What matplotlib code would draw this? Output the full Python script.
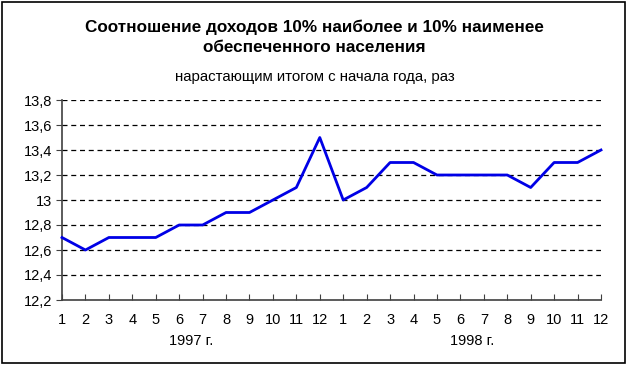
import matplotlib.pyplot as plt
from matplotlib.patches import Rectangle

plt.rcParams['font.family'] = ['Liberation Sans', 'DejaVu Sans']

# Months, two years in a row
months = [str(m) for m in range(1, 13)] * 2
years = ["1997 г.", "1998 г."]

# Ratio of incomes of top 10% to bottom 10%
values = [12.7, 12.6, 12.7, 12.7, 12.7, 12.8, 12.8, 12.9, 12.9, 13.0, 13.1, 13.5,
          13.0, 13.1, 13.3, 13.3, 13.2, 13.2, 13.2, 13.2, 13.1, 13.3, 13.3, 13.4]

y_ticks = [12.2, 12.4, 12.6, 12.8, 13.0, 13.2, 13.4, 13.6, 13.8]
y_labels = ["12,2", "12,4", "12,6", "12,8", "13", "13,2", "13,4", "13,6", "13,8"]

fig = plt.figure(figsize=(6.29, 3.65), dpi=100)
ax = fig.add_axes([62 / 629, 1 - 300 / 365, (601 - 62) / 629, 200 / 365])

x = list(range(1, len(values) + 1))
ax.plot(x, values, color="#0000e6", linewidth=2.0, clip_on=False, zorder=3)

ax.set_xlim(1, 24)
ax.set_ylim(12.2, 13.8)
ax.set_xticks(x)
ax.set_xticklabels(months, fontsize=10.5)
ax.set_yticks(y_ticks)
ax.set_yticklabels(y_labels, fontsize=10.5)

for g in y_ticks[1:]:
    ax.axhline(g, color="black", linestyle=(0, (4, 3)), linewidth=0.9, zorder=1)

for s in ["top", "right"]:
    ax.spines[s].set_visible(False)
for s in ["left", "bottom"]:
    ax.spines[s].set_color("#404040")
    ax.spines[s].set_linewidth(1.2)

ax.tick_params(axis="x", direction="in", length=4, color="#404040", pad=9)
ax.tick_params(axis="y", direction="out", length=4, color="#404040", pad=3)

# year labels under the months
ax.text(6.5, -41 / 200, years[0], transform=ax.get_xaxis_transform(), ha="center", va="center", fontsize=10.5)
ax.text(18.5, -41 / 200, years[1], transform=ax.get_xaxis_transform(), ha="center", va="center", fontsize=10.5)

fig.text(0.5, 1 - 27 / 365, "Соотношение доходов 10% наиболее и 10% наименее",
         ha="center", va="center", fontsize=12.3, fontweight="bold")
fig.text(0.5, 1 - 48 / 365, "обеспеченного населения",
         ha="center", va="center", fontsize=12.3, fontweight="bold")
fig.text(0.5, 1 - 77 / 365, "нарастающим итогом с начала года, раз",
         ha="center", va="center", fontsize=10.8)

# frame round the picture
fig.patches.append(Rectangle((1.5 / 629, 2.5 / 365), 623.5 / 629, 361 / 365,
                             transform=fig.transFigure, fill=False,
                             edgecolor="black", linewidth=1.2))

plt.savefig("out.png", dpi=100)
